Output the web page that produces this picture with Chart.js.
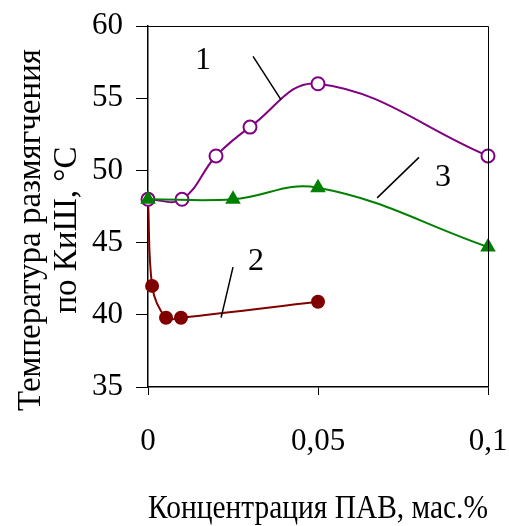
<!DOCTYPE html>
<html>
<head>
<meta charset="utf-8">
<script src="https://cdn.jsdelivr.net/npm/chart.js@4.4.1/dist/chart.umd.min.js"></script>
<style>
  html, body { margin: 0; padding: 0; background: #fff; }
  #wrap { width: 509px; height: 526px; }
</style>
</head>
<body>
<div id="wrap"><canvas id="chart-softening" width="509" height="526"></canvas></div>
<script>
// концентрация ПАВ, мас.% и температура размягчения по КиШ, °С
let x1 = [0, 0.01, 0.02, 0.03, 0.05, 0.1];
let y1 = [48, 48, 51, 53, 56, 51];

let x2 = [0, 0.0012, 0.0053, 0.0097, 0.05];
let y2 = [48, 42, 39.8, 39.8, 40.9];

let x3 = [0, 0.025, 0.05, 0.1];
let y3 = [48, 48, 48.8, 44.7];

let xTicks = [0, 0.05, 0.1];
let yTicks = [35, 40, 45, 50, 55, 60];

let yTitle = ['Температура размягчения', 'по КиШ, °С'];
let xTitle = 'Концентрация ПАВ, мас.%';

// номера кривых с выносками (в единицах осей)
let curveLabels = [
    { text: '1', x: 0.0162, y: 57.6, from: [0.0309, 57.9], to: [0.0391, 54.9] },
    { text: '2', x: 0.0318, y: 43.7, from: [0.025, 43.3], to: [0.0215, 39.8] },
    { text: '3', x: 0.0868, y: 49.5, from: [0.0797, 50.9], to: [0.0674, 48.1] },
];

const serif = "'Liberation Serif', 'Times New Roman', serif";

function pts(xs, ys) {
    return xs.map((x, i) => ({ x: x, y: ys[i] }));
}

const frame = {
    id: 'frame',
    afterDatasetsDraw(chart) {
        const { ctx, chartArea, scales } = chart;
        ctx.save();
        ctx.strokeStyle = '#000';
        ctx.lineWidth = 1;
        ctx.beginPath();
        ctx.moveTo(chartArea.left, chartArea.top + 0.5);
        ctx.lineTo(chartArea.right + 0.5, chartArea.top + 0.5);
        ctx.lineTo(chartArea.right + 0.5, chartArea.bottom);
        ctx.stroke();

        ctx.font = '32px ' + serif;
        ctx.fillStyle = '#000';
        ctx.textAlign = 'center';
        ctx.textBaseline = 'middle';
        ctx.lineWidth = 1.5;
        curveLabels.forEach(l => {
            ctx.fillText(l.text, scales.x.getPixelForValue(l.x), scales.y.getPixelForValue(l.y));
            ctx.beginPath();
            ctx.moveTo(scales.x.getPixelForValue(l.from[0]), scales.y.getPixelForValue(l.from[1]));
            ctx.lineTo(scales.x.getPixelForValue(l.to[0]), scales.y.getPixelForValue(l.to[1]));
            ctx.stroke();
        });

        // подпись оси Y (два ряда, повернута)
        ctx.font = '33px ' + serif;
        ctx.translate(0, 230);
        ctx.rotate(-Math.PI / 2);
        ctx.fillText(yTitle[0], 0, 31);
        ctx.fillText(yTitle[1], 0, 67);
        ctx.restore();
    }
};

new Chart(document.getElementById('chart-softening').getContext('2d'), {
    type: 'line',
    data: {
        datasets: [{
            label: '2',
            data: pts(x2, y2),
            borderColor: '#800000',
            backgroundColor: '#800000',
            borderWidth: 2,
            pointStyle: 'circle',
            pointRadius: 7,
            pointBorderWidth: 0,
            tension: 0.4,
            order: 3
        }, {
            label: '1',
            data: pts(x1, y1),
            borderColor: '#800080',
            backgroundColor: '#ffffff',
            borderWidth: 2,
            pointStyle: 'circle',
            pointRadius: 6.5,
            pointBorderWidth: 2,
            tension: 0.4,
            order: 2
        }, {
            label: '3',
            data: pts(x3, y3),
            borderColor: '#008000',
            backgroundColor: '#008000',
            borderWidth: 2,
            pointStyle: 'triangle',
            pointRadius: 9,
            pointBorderWidth: 0,
            tension: 0.4,
            order: 1
        }]
    },
    options: {
        responsive: false,
        animation: false,
        clip: false,
        layout: { padding: { top: 26, right: 21, left: 0, bottom: 0 } },
        plugins: {
            legend: { display: false },
            tooltip: { enabled: false }
        },
        scales: {
            x: {
                type: 'linear',
                min: 0,
                max: 0.1,
                afterBuildTicks: s => { s.ticks = xTicks.map(v => ({ value: v })); },
                afterFit: s => { s.height = 139; s.paddingLeft = 0; s.paddingRight = 0; },
                border: { display: true, color: '#000', width: 1.5 },
                grid: { display: true, drawOnChartArea: false, drawTicks: true, tickLength: 8, color: '#000' },
                ticks: {
                    padding: 28,
                    color: '#000',
                    font: { family: serif, size: 31 },
                    callback: v => String(Math.round(v * 100) / 100).replace('.', ',')
                },
                title: {
                    display: true,
                    text: xTitle,
                    color: '#000',
                    font: { family: serif, size: 34, lineHeight: 1.0 },
                    padding: { top: 0, bottom: 0 }
                }
            },
            y: {
                min: 35,
                max: 60,
                afterBuildTicks: s => { s.ticks = yTicks.map(v => ({ value: v })); },
                afterFit: s => { s.width = 148; s.paddingTop = 0; s.paddingBottom = 0; },
                border: { display: true, color: '#000', width: 1.5 },
                grid: { display: true, drawOnChartArea: false, drawTicks: true, tickLength: 12, color: '#000' },
                ticks: {
                    padding: 13,
                    color: '#000',
                    font: { family: serif, size: 31 }
                },
                title: { display: false }
            }
        }
    },
    plugins: [frame]
});
</script>
</body>
</html>
